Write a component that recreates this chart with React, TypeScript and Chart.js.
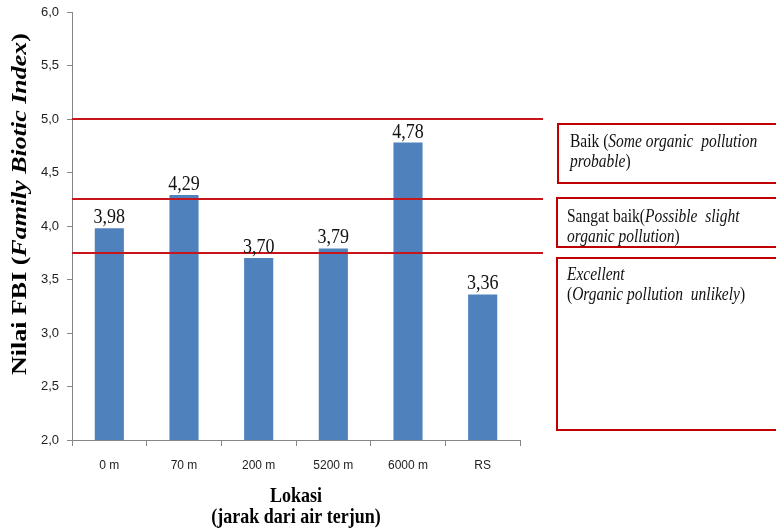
import React, { useEffect, useRef } from "react";
import { Chart, registerables } from "chart.js";

Chart.register(...registerables);

const categories = ["0 m", "70 m", "200 m", "5200 m", "6000 m", "RS"];
const fbiValues = [3.98, 4.29, 3.7, 3.79, 4.78, 3.36];
const thresholdLines = [5.0, 4.25, 3.75];
const yMin = 2.0;
const yMax = 6.0;
const yStep = 0.5;

type Seg = { t: string; i?: boolean };
const yTitle: Seg[] = [{ t: "Nilai FBI (" }, { t: "Family Biotic Index", i: true }, { t: ")" }];
const xTitle = ["Lokasi", "(jarak dari air terjun)"];
const boxTexts: Seg[][][] = [
  [
    [{ t: "Baik (" }, { t: "Some organic  pollution", i: true }],
    [{ t: "probable", i: true }, { t: ")" }],
  ],
  [
    [{ t: "Sangat baik(" }, { t: "Possible  slight", i: true }],
    [{ t: "organic pollution", i: true }, { t: ")" }],
  ],
  [
    [{ t: "Excellent", i: true }],
    [{ t: "(" }, { t: "Organic pollution  unlikely", i: true }, { t: ")" }],
  ],
];

const SERIF = "'Liberation Serif', 'DejaVu Serif', serif";
const SANS = "'Liberation Sans', 'DejaVu Sans', sans-serif";
const SY = 1.18;

function drawRich(
  ctx: CanvasRenderingContext2D,
  segs: Seg[],
  x: number,
  y: number,
  size: number,
  bold: boolean,
  align: "left" | "center",
  rotate = false
) {
  const fontFor = (s: Seg) => `${s.i ? "italic " : ""}${bold ? "bold " : ""}${size}px ${SERIF}`;
  let total = 0;
  const widths = segs.map((s) => {
    ctx.font = fontFor(s);
    const w = ctx.measureText(s.t).width;
    total += w;
    return w;
  });
  ctx.save();
  ctx.translate(x, y);
  if (rotate) {
    ctx.rotate(-Math.PI / 2);
    ctx.scale(SY, 1);
  } else {
    ctx.scale(1, SY);
  }
  let cx = align === "center" ? -total / 2 : 0;
  ctx.textAlign = "left";
  segs.forEach((s, k) => {
    ctx.font = fontFor(s);
    ctx.fillText(s.t, cx, 0);
    cx += widths[k];
  });
  ctx.restore();
}

const overlayPlugin = {
  id: "overlay",
  afterDatasetsDraw(chart: any) {
    const ctx: CanvasRenderingContext2D = chart.ctx;
    const area = chart.chartArea;
    const yScale = chart.scales.y;

    // threshold lines
    ctx.save();
    ctx.strokeStyle = "#C8141B";
    ctx.lineWidth = 2;
    thresholdLines.forEach((v) => {
      const py = Math.round(yScale.getPixelForValue(v));
      ctx.beginPath();
      ctx.moveTo(area.left, py);
      ctx.lineTo(543, py);
      ctx.stroke();
    });
    ctx.restore();

    // value labels
    ctx.save();
    ctx.fillStyle = "#111";
    ctx.textBaseline = "alphabetic";
    const meta = chart.getDatasetMeta(0);
    meta.data.forEach((bar: any, idx: number) => {
      const label = fbiValues[idx].toFixed(2).replace(".", ",");
      drawRich(ctx, [{ t: label }], bar.x, bar.y - 5, 18, false, "center");
    });
    ctx.restore();

    // axis titles
    ctx.save();
    ctx.fillStyle = "#000";
    ctx.textBaseline = "middle";
    drawRich(ctx, yTitle, 20, 204, 22, true, "center", true);
    ctx.textBaseline = "alphabetic";
    const cxm = (area.left + area.right) / 2;
    drawRich(ctx, [{ t: xTitle[0] }], cxm, 502, 18, true, "center");
    drawRich(ctx, [{ t: xTitle[1] }], cxm, 523, 18, true, "center");
    ctx.restore();

    // legend boxes
    const boxes = [
      { x: 558, y: 124, w: 230, h: 59, tx: 570, ty: 147 },
      { x: 557, y: 198, w: 230, h: 49, tx: 567, ty: 222 },
      { x: 557, y: 258, w: 230, h: 172, tx: 567, ty: 280 },
    ];
    ctx.save();
    ctx.strokeStyle = "#C00000";
    ctx.lineWidth = 2;
    boxes.forEach((b, k) => {
      ctx.strokeRect(b.x, b.y, b.w, b.h);
      ctx.fillStyle = "#111";
      boxTexts[k].forEach((line, li) => {
        drawRich(ctx, line, b.tx, b.ty + li * 20, 15.5, false, "left");
      });
    });
    ctx.restore();
  },
};

export default function App() {
  const ref = useRef<HTMLCanvasElement | null>(null);
  useEffect(() => {
    if (!ref.current) return;
    const chart = new Chart(ref.current, {
      type: "bar",
      data: {
        labels: categories,
        datasets: [
          {
            data: fbiValues,
            backgroundColor: "#4F81BD",
            barPercentage: 0.39,
            categoryPercentage: 1,
          },
        ],
      },
      options: {
        animation: false,
        responsive: false,
        devicePixelRatio: 1,
        layout: { padding: { left: 0, right: 256, top: 12, bottom: 0 } },
        plugins: { legend: { display: false }, tooltip: { enabled: false } },
        scales: {
          x: {
            grid: { display: true, drawOnChartArea: false, drawTicks: true, tickLength: 6, color: "#868686" },
            border: { color: "#868686" },
            ticks: { padding: 12, color: "#222", font: { family: SANS, size: 12 } },
            afterFit: (s: any) => {
              s.height = 90;
              s.paddingLeft = 0;
              s.paddingRight = 0;
            },
          },
          y: {
            min: yMin,
            max: yMax,
            grid: { display: true, drawOnChartArea: false, drawTicks: true, tickLength: 5, color: "#868686" },
            border: { color: "#868686" },
            ticks: {
              stepSize: yStep,
              padding: 8,
              color: "#222",
              font: { family: SANS, size: 13 },
              callback: (v: any) => Number(v).toFixed(1).replace(".", ","),
            },
            afterFit: (s: any) => {
              s.width = 72;
              s.paddingTop = 0;
              s.paddingBottom = 0;
            },
          },
        },
      },
      plugins: [overlayPlugin],
    });
    return () => chart.destroy();
  }, []);
  return (
    <div style={{ position: "absolute", left: 0, top: 0, width: 776, height: 530, background: "#fff" }}>
      <canvas ref={ref} width={776} height={530} style={{ width: 776, height: 530 }} />
    </div>
  );
}
